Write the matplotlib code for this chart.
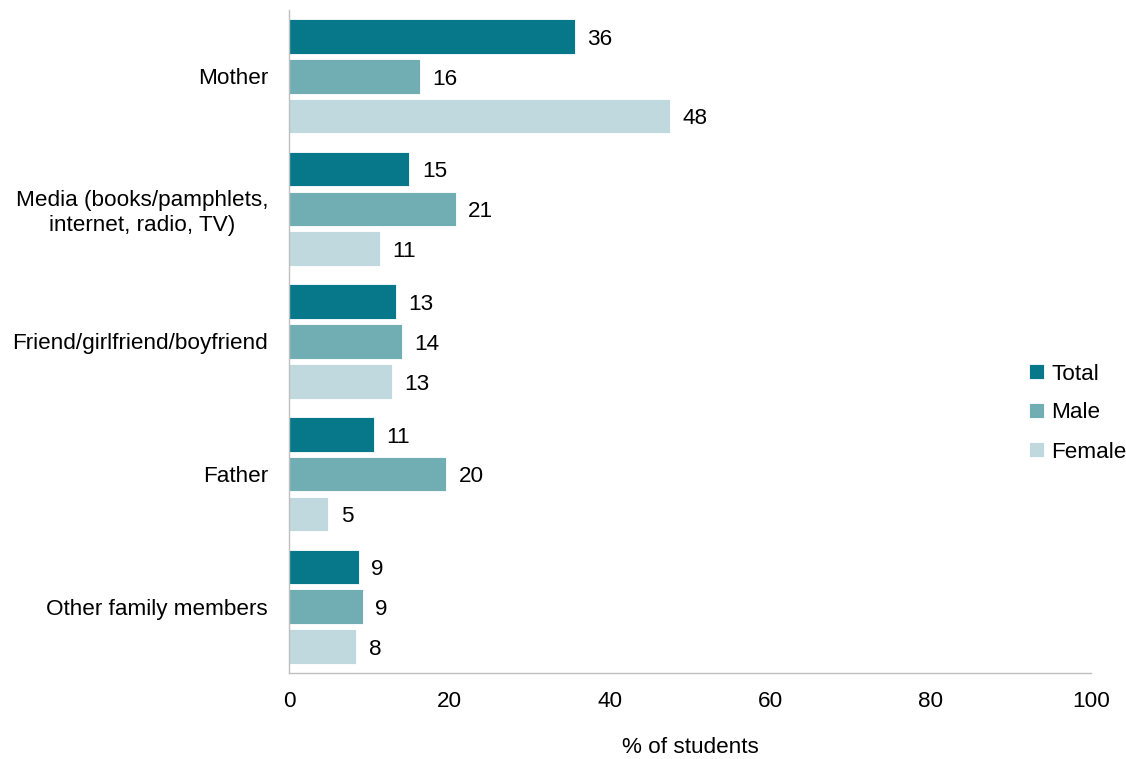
import matplotlib
matplotlib.use("Agg")
import matplotlib.pyplot as plt
import numpy as np

plt.rcParams['font.family'] = ['Liberation Sans', 'DejaVu Sans']

categories = ["Mother", "Media (books/pamphlets,\ninternet, radio, TV)",
              "Friend/girlfriend/boyfriend", "Father", "Other family members"]
total = [35.6, 15.0, 13.3, 10.6, 8.7]
male = [16.3, 20.8, 14.1, 19.6, 9.2]
female = [47.5, 11.3, 12.8, 4.9, 8.4]
series_names = ["Total", "Male", "Female"]
colors = ["#077889", "#71AEB4", "#BFD9DE"]
xticks = [0, 20, 40, 60, 80, 100]

FS = 16.2

fig = plt.figure(figsize=(11.26, 7.59), dpi=100)
ax = fig.add_axes([289/1126, 1-673/759, (1091-289)/1126, (673-10)/759])

y = np.arange(len(categories))
offsets = [-0.3, 0.0, 0.3]
for vals, name, c, off in zip([total, male, female], series_names, colors, offsets):
    bars = ax.barh(y + off, vals, height=0.26, color=c, label=name,
                   edgecolor='white', linewidth=0.6)
    texts = ax.bar_label(bars, labels=[f"{v:.0f}" for v in vals], padding=9, fontsize=FS)
    for t in texts:
        t.xyann = (9, -2)

ax.set_xlim(0, 100)
ax.set_ylim(4.5, -0.5)
ax.set_xticks(xticks)
ax.set_xticklabels([str(t) for t in xticks])
ax.set_yticks(y)
ax.set_yticklabels(categories)
ax.tick_params(axis='x', length=0, pad=13, labelsize=FS)
ax.tick_params(axis='y', length=0, pad=15, labelsize=FS)
for lab in ax.get_yticklabels():
    lab.set_horizontalalignment('right')
    lab.set_multialignment('center')
ax.set_xlabel("% of students", fontsize=FS, labelpad=18)

for s in ['top', 'right']:
    ax.spines[s].set_visible(False)
for s in ['left', 'bottom']:
    ax.spines[s].set_color('#BFBFBF')
    ax.spines[s].set_linewidth(1.0)

leg = fig.legend(loc='center left', bbox_to_anchor=(1029/1126, 1-413/759),
                 frameon=False, fontsize=FS, handlelength=0.65, handleheight=0.65,
                 handletextpad=0.35, labelspacing=0.8, borderpad=0, borderaxespad=0)

fig.savefig("out.png", dpi=100)
